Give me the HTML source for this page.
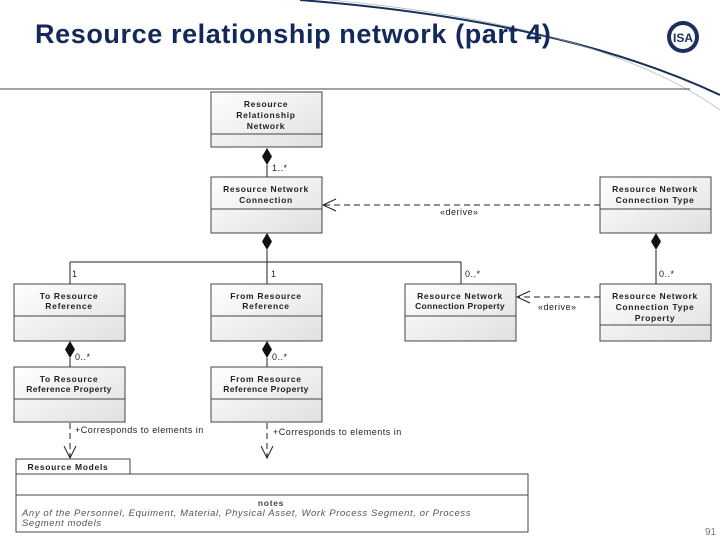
<!DOCTYPE html>
<html><head><meta charset="utf-8"><style>
body{margin:0;width:720px;height:540px;background:#fff;overflow:hidden;position:relative;font-family:"Liberation Sans",sans-serif}
.t{position:absolute;left:35px;top:19px;font-size:27px;font-weight:bold;color:#13295a;letter-spacing:0.6px;white-space:nowrap}
</style></head><body>
<svg width="720" height="540" style="position:absolute;left:0;top:0" font-family="Liberation Sans, sans-serif">
<defs>
<linearGradient id="g" x1="0" y1="0" x2="1" y2="1"><stop offset="0" stop-color="#fff"/><stop offset="1" stop-color="#e0e0e0"/></linearGradient>
</defs>
<path d="M300,0 Q560,20 720,95" stroke="#1b2f5e" stroke-width="2" fill="none"/>
<path d="M330,0 Q600,25 720,110" stroke="#9aa" stroke-width="0.6" fill="none"/>
<line x1="0" y1="89" x2="690" y2="89" stroke="#445" stroke-width="1"/>
<circle cx="683" cy="37" r="16" fill="#1b2f5e"/><circle cx="683" cy="37" r="12" fill="#fff"/>
<text x="683" y="42" font-size="12" font-weight="bold" fill="#1b2f5e" text-anchor="middle">ISA</text>
<g stroke="#444" stroke-width="1" fill="url(#g)">
<rect x="211" y="92" width="111" height="55"/><line x1="211" y1="134" x2="322" y2="134"/>
<rect x="211" y="177" width="111" height="56"/><line x1="211" y1="209" x2="322" y2="209"/>
<rect x="600" y="177" width="111" height="56"/><line x1="600" y1="209" x2="711" y2="209"/>
<rect x="14" y="284" width="111" height="57"/><line x1="14" y1="316" x2="125" y2="316"/>
<rect x="211" y="284" width="111" height="57"/><line x1="211" y1="316" x2="322" y2="316"/>
<rect x="405" y="284" width="111" height="57"/><line x1="405" y1="316" x2="516" y2="316"/>
<rect x="600" y="284" width="111" height="57"/><line x1="600" y1="325" x2="711" y2="325"/>
<rect x="14" y="367" width="111" height="55"/><line x1="14" y1="399" x2="125" y2="399"/>
<rect x="211" y="367" width="111" height="55"/><line x1="211" y1="399" x2="322" y2="399"/>
<rect x="16" y="459" width="114" height="15" fill="#fff"/>
<rect x="16" y="474" width="512" height="58" fill="#fff"/><line x1="16" y1="495" x2="528" y2="495"/>
</g>
<g font-size="8.5" font-weight="bold" fill="#222" text-anchor="middle" letter-spacing="0.7">
<text x="266" y="107">Resource</text><text x="266" y="118">Relationship</text><text x="266" y="129">Network</text>
<text x="266" y="192">Resource Network</text><text x="266" y="203">Connection</text>
<text x="655" y="192">Resource Network</text><text x="655" y="203">Connection Type</text>
<text x="69" y="299">To Resource</text><text x="69" y="309">Reference</text>
<text x="266" y="299">From Resource</text><text x="266" y="309">Reference</text>
<text x="460" y="299">Resource Network</text><text x="460" y="309" letter-spacing="0.3">Connection Property</text>
<text x="655" y="299">Resource Network</text><text x="655" y="310">Connection Type</text><text x="655" y="321">Property</text>
<text x="69" y="382">To Resource</text><text x="69" y="392" letter-spacing="0.4">Reference Property</text>
<text x="266" y="382">From Resource</text><text x="266" y="392" letter-spacing="0.4">Reference Property</text>
<text x="68" y="470">Resource Models</text>
<text x="271" y="506" fill="#444">notes</text>
</g>
<g font-size="9.5" font-style="italic" fill="#555" letter-spacing="0.6">
<text x="22" y="516">Any of the Personnel, Equiment, Material, Physical Asset, Work Process Segment, or Process</text>
<text x="22" y="526">Segment models</text>
</g>
<g stroke="#222" stroke-width="1" fill="none">
<line x1="267" y1="165" x2="267" y2="177"/>
<line x1="267" y1="250" x2="267" y2="284"/>
<line x1="70" y1="262" x2="461" y2="262"/><line x1="70" y1="262" x2="70" y2="284"/><line x1="461" y1="262" x2="461" y2="284"/>
<line x1="656" y1="250" x2="656" y2="284"/>
<line x1="70" y1="358" x2="70" y2="367"/><line x1="267" y1="358" x2="267" y2="367"/>
<g stroke-dasharray="6,4"><line x1="600" y1="205" x2="323" y2="205"/><line x1="600" y1="297" x2="517" y2="297"/>
<line x1="70" y1="423" x2="70" y2="458"/><line x1="267" y1="423" x2="267" y2="458"/></g>
<polyline points="336,199 323,205 336,211"/><polyline points="530,291 517,297 530,303"/>
<polyline points="64,446 70,458 76,446"/><polyline points="261,446 267,458 273,446"/>
</g>
<g fill="#111">
<polygon points="267,148 272,156.5 267,165 262,156.5"/>
<polygon points="267,233 272,241.5 267,250 262,241.5"/>
<polygon points="656,233 661,241.5 656,250 651,241.5"/>
<polygon points="70,341 75,349.5 70,358 65,349.5"/>
<polygon points="267,341 272,349.5 267,358 262,349.5"/>
</g>
<g font-size="9" fill="#222" letter-spacing="0.5">
<text x="272" y="171">1..*</text><text x="72" y="277">1</text><text x="271" y="277">1</text>
<text x="465" y="277">0..*</text><text x="659" y="277">0..*</text>
<text x="75" y="360">0..*</text><text x="272" y="360">0..*</text>
<text x="440" y="215">«derive»</text><text x="538" y="310">«derive»</text>
<text x="75" y="433">+Corresponds to elements in</text><text x="273" y="435">+Corresponds to elements in</text>
<text x="705" y="535" fill="#777" font-size="10" letter-spacing="0">91</text>
</g>
</svg>
<div class="t">Resource relationship network (part 4)</div>
</body></html>
